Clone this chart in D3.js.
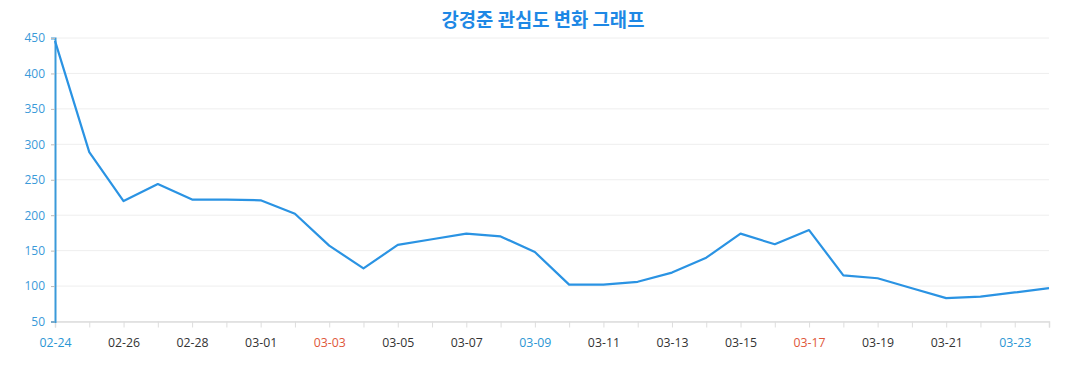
<!DOCTYPE html>
<html><head><meta charset="utf-8">
<script src="https://cdn.jsdelivr.net/npm/d3@7"></script>
<style>body{margin:0;background:#fff}svg{display:block}</style>
</head><body>
<svg id="c" width="1077" height="390"></svg>
<script>
const categories = ["02-24","02-25","02-26","02-27","02-28","02-29","03-01","03-02","03-03","03-04","03-05","03-06","03-07","03-08","03-09","03-10","03-11","03-12","03-13","03-14","03-15","03-16","03-17","03-18","03-19","03-20","03-21","03-22","03-23","03-24"];
const values = [446,289,220,244,222,222,221,202,157,125,158,166,174,170,148,102,102,106,119,140,174,159,179,115,111,97,83,85,91,97];
const yTicks = [50,100,150,200,250,300,350,400,450];
const blueLabels = ["02-24","03-09","03-23"];
const redLabels = ["03-03","03-17"];
const title = "강경준 관심도 변화 그래프";

(function(){
const svg = d3.select("#c");
const mLeft = 55, mRight = 1049, mTop = 38, mBottom = 321.5;
const x = d3.scalePoint().domain(categories).range([mLeft, mRight]);
const y = d3.scaleLinear().domain([50, 450]).range([mBottom, mTop]);
const font = "'Open Sans','Noto Sans',sans-serif";

svg.append("text").attr("x", 543).attr("y", 27).attr("text-anchor", "middle")
  .attr("font-family", "'Noto Sans CJK KR',sans-serif").attr("font-weight", "bold")
  .attr("font-size", 18.8).attr("fill", "#1e88e5").text(title);

svg.append("g").selectAll("line").data(yTicks).join("line")
  .attr("x1", mLeft).attr("x2", mRight).attr("y1", d => y(d)).attr("y2", d => y(d))
  .attr("stroke", "#eeeeee").attr("stroke-width", 1);

const xAxis = svg.append("g").attr("transform", `translate(0,${mBottom})`)
  .call(d3.axisBottom(x).tickSize(6).tickPadding(11)
    .tickFormat((d, i) => i % 2 === 0 ? d : ""));
xAxis.select(".domain").attr("stroke", "#dddddd").attr("stroke-width", 1.5);
xAxis.selectAll(".tick line").attr("stroke", "#dddddd");
xAxis.selectAll(".tick text").attr("font-family", font).attr("font-size", 12.3)
  .attr("fill", d => blueLabels.includes(d) ? "#2a96d4" : redLabels.includes(d) ? "#e0573a" : "#333333");

const yAxis = svg.append("g").attr("transform", `translate(${mLeft},0)`)
  .call(d3.axisLeft(y).tickValues(yTicks).tickSize(4).tickPadding(6));
yAxis.select(".domain").attr("stroke", "#3a9ad9").attr("stroke-width", 2);
yAxis.selectAll(".tick line").attr("stroke", "#bbbbbb");
yAxis.selectAll(".tick text").attr("font-family", font).attr("font-size", 12).attr("fill", "#3a9ad9");

const line = d3.line().x((d, i) => x(categories[i])).y(d => y(d));
svg.append("path").datum(values).attr("d", line).attr("fill", "none")
  .attr("stroke", "#2a93e3").attr("stroke-width", 2.2).attr("stroke-linejoin", "round");
})();
</script>
</body></html>
